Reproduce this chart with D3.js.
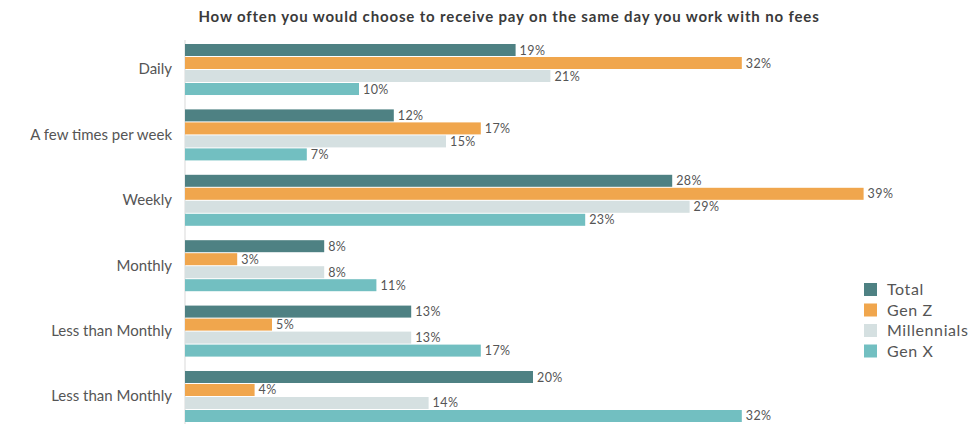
<!DOCTYPE html>
<html>
<head>
<meta charset="utf-8">
<script src="https://cdn.jsdelivr.net/npm/d3@7"></script>
<style>
  body { margin: 0; background: #fff; }
  text { font-family: Lato, "Open Sans", sans-serif; }
</style>
</head>
<body>
<div id="chart"></div>
<script>
// chart values
const categories = ["Daily", "A few times per week", "Weekly", "Monthly", "Less than Monthly", "Less than Monthly "];
const seriesNames = ["Total", "Gen Z", "Millennials", "Gen X"];
const total       = [19, 12, 28, 8, 13, 20];
const genZ        = [32, 17, 39, 3, 5, 4];
const millennials = [21, 15, 29, 8, 13, 14];
const genX        = [10, 7, 23, 11, 17, 32];
const colors = ["#4e8183", "#f0a64d", "#d5e0e1", "#72bfc1"];

const values = [total, genZ, millennials, genX];
const rows = categories.map((c, i) => ({cat: c, vals: values.map(v => v[i])}));

const width = 968, height = 425;
const svg = d3.select('#chart').append('svg')
    .attr("width", width)
    .attr("height", height);

// title
svg.append("text")
    .attr("x", 509)
    .attr("y", 22)
    .attr("text-anchor", "middle")
    .attr("font-size", 15)
    .attr("font-weight", "bold")
    .attr("letter-spacing", 0.85)
    .attr("fill", "#3a3a3a")
    .text("How often you would choose to receive pay on the same day you work with no fees");

// scales
const x = d3.scaleLinear().domain([0, 10]).range([185, 359]);
const y = d3.scaleBand()
    .domain(categories)
    .range([44, 422])
    .paddingInner(0.22)
    .paddingOuter(0);
const ySub = d3.scaleBand()
    .domain(seriesNames)
    .range([0, y.bandwidth()])
    .paddingInner(0.077);

// category axis
const yAxis = svg.append("g")
    .attr("transform", "translate(185,0)")
    .call(d3.axisLeft(y).tickSize(0).tickPadding(13));
yAxis.select(".domain").remove();
yAxis.selectAll("text")
    .attr("font-size", 15)
    .attr("fill", "#555")
    .style("font-family", "Lato, 'Open Sans', sans-serif");

svg.append("line")
    .attr("x1", 185).attr("x2", 185)
    .attr("y1", 40).attr("y2", 424)
    .attr("stroke", "#d9d9d9")
    .attr("stroke-width", 1);

// bars
const groups = svg.selectAll("g.grp").data(rows).enter()
    .append("g")
    .attr("class", "grp")
    .attr("transform", d => "translate(0," + y(d.cat) + ")");

groups.selectAll("rect")
    .data(d => d.vals.map((v, i) => ({key: seriesNames[i], v: v, i: i})))
    .join("rect")
    .attr("x", x(0))
    .attr("y", d => ySub(d.key))
    .attr("width", d => x(d.v) - x(0))
    .attr("height", ySub.bandwidth())
    .attr("fill", d => colors[d.i]);

groups.selectAll("text.val")
    .data(d => d.vals.map((v, i) => ({key: seriesNames[i], v: v, i: i})))
    .join("text")
    .attr("class", "val")
    .attr("x", d => x(d.v) + 4)
    .attr("y", d => ySub(d.key) + ySub.bandwidth() / 2 + 4.5)
    .attr("font-size", 12.5)
    .attr("letter-spacing", 0.4)
    .attr("fill", "#555")
    .text(d => d.v + "%");

// legend
const legend = svg.append("g").attr("transform", "translate(864,283)");
seriesNames.forEach((s, i) => {
    legend.append("rect")
        .attr("x", 0).attr("y", i * 20.5)
        .attr("width", 13).attr("height", 13)
        .attr("fill", colors[i]);
    legend.append("text")
        .attr("x", 23).attr("y", i * 20.5 + 12)
        .attr("font-size", 16)
        .attr("letter-spacing", 0.6)
        .attr("fill", "#555")
        .text(s);
});
</script>
</body>
</html>
